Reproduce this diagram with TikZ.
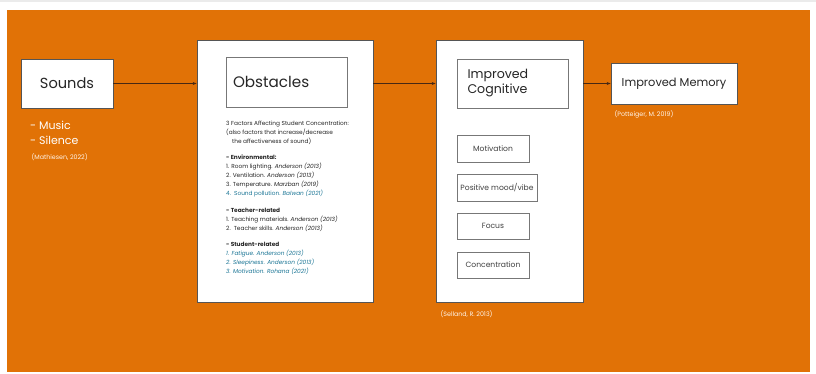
\documentclass[tikz,border=0pt]{standalone}
\usepackage{fontspec}
\setmainfont{Poppins}
\usepackage{xcolor}
\usetikzlibrary{
    arrows.meta,
    positioning,
    shadows
}
\definecolor{slideorange}{RGB}{225,114,6}
\definecolor{boxline}{RGB}{85,85,85}
\definecolor{refteal}{RGB}{28,118,150}
\definecolor{arrowdark}{RGB}{70,40,20}
\tikzset{
  box/.style    = {draw=boxline, fill=white, line width=0.8pt,
                   drop shadow={opacity=0.35, shadow xshift=0.8pt, shadow yshift=-0.8pt}},
  inbox/.style  = {draw=boxline!80, fill=white, line width=0.7pt},
  small/.style  = {font=\fontsize{7.6}{8}\selectfont, text=black!75},
  cite/.style   = {font=\fontsize{6.3}{7}\selectfont, text=white!92!orange, anchor=west},
  arr/.style    = {-{Stealth[length=4pt,width=3pt]}, line width=0.8pt, arrowdark}
}

\begin{document}
\begin{tikzpicture}[x=1pt, y=-1pt]

\useasboundingbox (0,0) rectangle (816,374);
\fill[white] (0,0) rectangle (816,374);
\fill[black!8] (0,0) rectangle (816,2);
\fill[slideorange] (7,10) rectangle (810,372);

%% left: sounds
\node[box, minimum width=92pt, minimum height=49pt,
      font=\fontsize{14.6}{18}\selectfont, text=black!85] (snd) at (67,83.5) {Sounds};
\node[anchor=north west, align=left, text=white, inner sep=0pt,
      font=\fontsize{11}{15}\selectfont] (kinds) at (30,121) {- Music\\- Silence};
\node[cite] (mat) at (28,157) {(Mathiesen, 2022)};

%% middle: obstacles
\node[box, minimum width=176pt, minimum height=262pt] (obs) at (285,171) {};
\node[inbox, minimum width=121pt, minimum height=50pt, text width=107pt,
      font=\fontsize{15.2}{18}\selectfont, text=black!85] (obt) at (286.5,82) {Obstacles};
\node[anchor=north west, align=left, inner sep=0pt, text=black!85,
      font=\fontsize{5.8}{9}\selectfont] (fac) at (226,121) {%
  3 Factors Affecting Student Concentration:\\
  (also factors that increase/decrease\\
  \hspace*{6pt}the affectiveness of sound)\\[7pt]
  \textbf{- Environmental:}\\
  1. Room lighting. \textit{Anderson (2013)}\\
  2. Ventilation. \textit{Anderson (2013)}\\
  3. Temperature. \textit{Marzban (2019)}\\
  \textcolor{refteal}{4.\ \ Sound pollution. \textit{Balwan (2021)}}\\[8pt]
  \textbf{- Teacher-related}\\
  1. Teaching materials. \textit{Anderson (2013)}\\
  2.\ \ Teacher skills. \textit{Anderson (2013)}\\[7pt]
  \textbf{- Student-related}\\
  \textcolor{refteal}{\textit{1. Fatigue. Anderson (2013)}}\\
  \textcolor{refteal}{\textit{2. Sleepiness. Anderson (2013)}}\\
  \textcolor{refteal}{\textit{3. Motivation. Rohana (2021)}}};

%% cognitive box with its list
\node[box, minimum width=147pt, minimum height=262pt] (cog) at (509.5,171) {};
\node[inbox, minimum width=111pt, minimum height=49pt, text width=90pt, align=left,
      font=\fontsize{12.6}{15}\selectfont, text=black!85] (cgt) at (512.5,83.5)
      {Improved\\Cognitive};
\node[inbox, small, minimum width=72pt, minimum height=27pt] (mot) at (493,148.5) {Motivation};
\node[inbox, small, minimum width=80pt, minimum height=27pt] (moo) at (497,187.5) {Positive mood/vibe};
\node[inbox, small, minimum width=72pt, minimum height=26pt] (foc) at (493,226) {Focus};
\node[inbox, small, minimum width=72pt, minimum height=26pt] (con) at (493,265) {Concentration};
\node[cite] (sel) at (437,314) {(Selland, R. 2013)};

%% right: memory
\node[box, minimum width=126pt, minimum height=41pt,
      font=\fontsize{11.4}{14}\selectfont, text=black!85] (mem) at (674,83.5) {Improved Memory};
\node[cite] (pot) at (611,114) {(Potteiger, M. 2019)};

\draw[arr] (snd.east) -- (snd.east -| obs.west);
\draw[arr] (obs.east |- snd.east) -- (cog.west |- snd.east);
\draw[arr] (cog.east |- mem.west) -- (mem.west);

\end{tikzpicture}
\end{document}
